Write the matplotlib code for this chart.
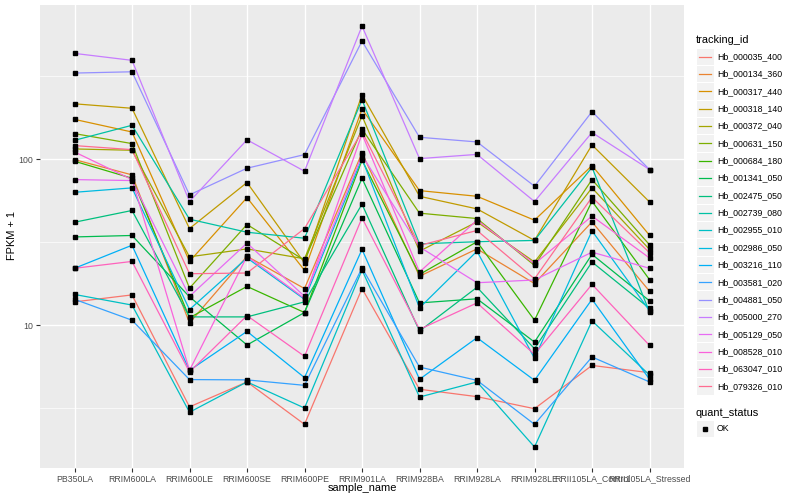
import numpy as np
import matplotlib
matplotlib.use("Agg")
import matplotlib.pyplot as plt
from matplotlib.ticker import NullFormatter

samples = ["PB350LA", "RRIM600LA", "RRIM600LE", "RRIM600SE", "RRIM600PE",
           "RRIM901LA", "RRIM928BA", "RRIM928LA", "RRIM928LE",
           "RRII105LA_Control", "RRII105LA_Stressed"]

tracking_ids = ["Hb_000035_400", "Hb_000134_360", "Hb_000317_440",
                "Hb_000318_140", "Hb_000372_040", "Hb_000631_150",
                "Hb_000684_180", "Hb_001341_050", "Hb_002475_050",
                "Hb_002739_080", "Hb_002955_010", "Hb_002986_050",
                "Hb_003216_110", "Hb_003581_020", "Hb_004881_050",
                "Hb_005000_270", "Hb_005129_050", "Hb_008528_010",
                "Hb_063047_010", "Hb_079326_010"]

# FPKM + 1, one row per tracking_id, columns follow `samples`
fpkm_plus1 = [
    [13.8, 15.2, 3.21, 4.54, 2.52, 16.6, 4.10, 3.70, 3.13, 5.71, 5.16],
    [99.5, 80.5, 10.3, 26.0, 16.6, 109.2, 19.7, 28.8, 17.8, 41.9, 16.0],
    [174, 146, 24.2, 58.7, 21.4, 201, 64.7, 59.8, 42.9, 91.6, 34.8],
    [216, 203, 38.2, 72.4, 23.7, 245, 59.8, 50.2, 32.4, 122, 55.3],
    [115.4, 113.3, 25.8, 28.8, 25.1, 183, 27.9, 41.9, 24.0, 67.2, 28.6],
    [142.8, 124.3, 16.7, 40.4, 24.6, 152, 47.3, 43.9, 22.9, 75.4, 30.5],
    [97.3, 76.8, 11.07, 17.1, 11.9, 98.6, 20.2, 31.8, 10.7, 55.8, 18.8],
    [34.0, 34.7, 14.8, 7.58, 11.9, 76.8, 13.6, 14.4, 7.90, 26.7, 14.0],
    [41.7, 49.1, 11.2, 11.2, 13.8, 53.6, 9.20, 16.9, 7.20, 24.0, 12.6],
    [130.1, 160.3, 43.5, 36.3, 33.4, 228.8, 30.9, 31.8, 32.4, 89.5, 11.97],
    [15.3, 13.2, 2.98, 4.54, 3.16, 21.5, 3.68, 4.54, 1.84, 10.6, 5.00],
    [63.2, 67.2, 12.4, 25.4, 14.3, 100.9, 12.7, 27.9, 6.30, 37.0, 12.2],
    [22.0, 30.3, 5.33, 9.16, 4.82, 28.6, 4.71, 8.39, 4.64, 14.3, 4.71],
    [14.3, 10.7, 4.69, 4.67, 4.33, 22.1, 5.58, 4.64, 2.52, 6.42, 4.54],
    [331, 337, 61.0, 88.3, 106.7, 516, 135.7, 127.2, 68.8, 193.7, 86.7],
    [435, 395, 55.6, 131, 84.7, 636, 100.9, 107, 55.6, 145, 86.7],
    [75.4, 74.4, 14.9, 31.2, 14.9, 105.7, 29.6, 18.0, 18.7, 27.5, 22.0],
    [110.7, 75.4, 5.33, 26.0, 14.5, 142.1, 20.9, 42.9, 23.4, 45.4, 25.4],
    [22.0, 24.2, 5.21, 11.4, 6.48, 44.3, 9.42, 13.6, 6.66, 17.6, 7.54],
    [120.9, 114.3, 20.4, 20.6, 38.2, 146.8, 30.2, 37.2, 19.0, 59.0, 27.3],
]

quant_status = ["OK"]

# ggplot2 hue palette for 20 groups
colors = ["#F8766D", "#EA8331", "#D89000", "#C09B00", "#A3A500", "#7CAE00",
          "#39B600", "#00BB4E", "#00BF7D", "#00C1A3", "#00BFC4", "#00BAE0",
          "#00B0F6", "#35A2FF", "#9590FF", "#C77CFF", "#E76BF3", "#FA62DB",
          "#FF62BC", "#FF6C91"]

plt.rcParams["font.family"] = ["Liberation Sans", "DejaVu Sans"]
W, H = 800, 500
fig = plt.figure(figsize=(8, 5), dpi=100)
fig.patch.set_facecolor("white")

# panel: x 40..684 px, y 5..468 px
ax = fig.add_axes([40 / W, (H - 468) / H, 644 / W, 463 / H])
ax.set_facecolor("#EBEBEB")
for s in ax.spines.values():
    s.set_visible(False)

xs = np.arange(len(samples))
for vals, c in zip(fpkm_plus1, colors):
    ax.plot(xs, vals, color=c, lw=0.9, zorder=3)
for vals in fpkm_plus1:
    ax.plot(xs, vals, ls="none", marker="s", ms=2.8, color="black", zorder=4)

ax.set_yscale("log")
allv = np.log10(np.concatenate([np.asarray(v, float) for v in fpkm_plus1]))
lo, hi = allv.min(), allv.max()
pad = 0.05 * (hi - lo)
ax.set_ylim(10 ** (lo - pad), 10 ** (hi + pad))
ax.set_xlim(-0.6, len(samples) - 0.4)

ax.set_yticks([10, 100])
ax.set_yticklabels(["10", "100"])
ax.set_yticks([10 ** 0.5, 10 ** 1.5, 10 ** 2.5], minor=True)
ax.yaxis.set_minor_formatter(NullFormatter())
ax.set_xticks(xs)
ax.set_xticklabels(samples)
ax.tick_params(which="major", length=2.8, width=0.8, color="#333333",
               labelcolor="#4D4D4D", labelsize=6.3, pad=2)
ax.tick_params(which="minor", length=0)
ax.grid(which="major", color="white", lw=1.0, zorder=0)
ax.grid(which="minor", axis="y", color="white", lw=0.5, zorder=0)
ax.set_axisbelow(True)

# overlay in pixel coordinates for titles and legends
ov = fig.add_axes([0, 0, 1, 1])
ov.set_xlim(0, W)
ov.set_ylim(H, 0)
ov.axis("off")
ov.patch.set_alpha(0)

ov.text(362, 488, "sample_name", ha="center", va="center", fontsize=7.9,
        color="black")
ov.text(12, 236, "FPKM + 1", ha="center", va="center", rotation=90,
        fontsize=7.9, color="black")

ov.text(696, 40, "tracking_id", ha="left", va="center", fontsize=7.9)
row0, step = 56.7, 17.35
for i, (name, c) in enumerate(zip(tracking_ids, colors)):
    yc = row0 + i * step
    ov.add_patch(plt.Rectangle((697, yc - step / 2 + 0.5), 16.5, step - 1,
                               facecolor="#F2F2F2", edgecolor="none"))
    ov.plot([699, 711], [yc, yc], color=c, lw=0.9)
    ov.text(717, yc, name, ha="left", va="center", fontsize=6.3)

ov.text(696, 412.5, "quant_status", ha="left", va="center", fontsize=7.9)
for i, q in enumerate(quant_status):
    yc = 428.7 + i * step
    ov.add_patch(plt.Rectangle((697, yc - step / 2 + 0.5), 16.5, step - 1,
                               facecolor="#F2F2F2", edgecolor="none"))
    ov.plot([705], [yc], marker="s", ms=2.8, color="black", ls="none")
    ov.text(717, yc, q, ha="left", va="center", fontsize=6.3)

fig.savefig("out.png", dpi=100)
